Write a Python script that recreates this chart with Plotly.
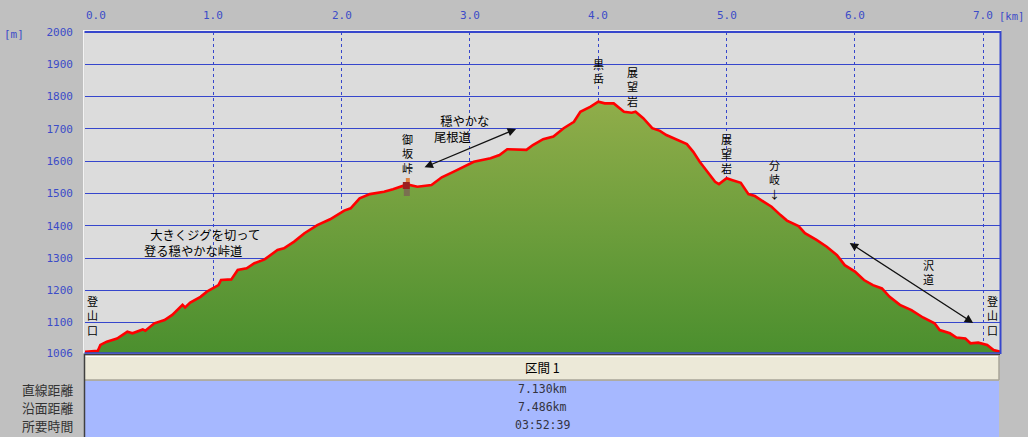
import plotly.graph_objects as go

# ---------------- data ----------------
dist_km = [0.00, 0.10, 0.12, 0.17, 0.25, 0.33, 0.37, 0.45, 0.47, 0.54,
           0.62, 0.68, 0.76, 0.78, 0.82, 0.90, 0.95, 0.99, 1.04, 1.06,
           1.14, 1.19, 1.26, 1.32, 1.40, 1.50, 1.55, 1.63, 1.71, 1.81,
           1.91, 2.02, 2.07, 2.14, 2.22, 2.33, 2.40, 2.51, 2.59, 2.70,
           2.78, 2.87, 2.95, 3.03, 3.16, 3.23, 3.29, 3.39, 3.44, 3.49,
           3.57, 3.65, 3.73, 3.81, 3.86, 3.94, 4.00, 4.05, 4.12, 4.20,
           4.26, 4.29, 4.35, 4.42, 4.48, 4.53, 4.61, 4.69, 4.74, 4.79,
           4.85, 4.91, 4.94, 5.00, 5.04, 5.11, 5.17, 5.22, 5.29, 5.35,
           5.42, 5.47, 5.56, 5.61, 5.70, 5.78, 5.86, 5.92, 6.00, 6.07,
           6.14, 6.21, 6.27, 6.35, 6.44, 6.53, 6.62, 6.66, 6.74, 6.79,
           6.86, 6.90, 6.96, 7.03, 7.08, 7.13]
elev_m = [1010, 1013, 1031, 1041, 1051, 1072, 1067, 1079, 1075, 1098,
          1108, 1124, 1155, 1147, 1162, 1180, 1196, 1206, 1216, 1232,
          1234, 1263, 1268, 1284, 1296, 1325, 1330, 1351, 1377, 1402,
          1420, 1447, 1454, 1485, 1498, 1505, 1513, 1528, 1521, 1526,
          1550, 1567, 1583, 1598, 1609, 1619, 1637, 1635, 1635, 1650,
          1668, 1676, 1702, 1722, 1753, 1769, 1784, 1779, 1779, 1753,
          1750, 1753, 1733, 1702, 1694, 1681, 1668, 1653, 1629, 1598,
          1567, 1536, 1529, 1547, 1542, 1533, 1498, 1492, 1474, 1459,
          1433, 1416, 1399, 1377, 1356, 1335, 1309, 1278, 1258, 1232,
          1216, 1206, 1180, 1155, 1139, 1116, 1098, 1077, 1067, 1054,
          1051, 1036, 1038, 1031, 1015, 1010]

x_ticks = [0, 1, 2, 3, 4, 5, 6, 7]
x_tick_labels = ["0.0", "1.0", "2.0", "3.0", "4.0", "5.0", "6.0", "7.0"]
y_ticks = [1006, 1100, 1200, 1300, 1400, 1500, 1600, 1700, 1800, 1900, 2000]
y_tick_labels = [str(v) for v in y_ticks]

# vertical place labels: (text, x_km, y_m)
vertical_labels = [
    ("登山口", 0.06, 1121),
    ("登山口", 7.07, 1121),
    ("黒岳", 4.00, 1879),
    ("展望岩", 4.27, 1831),
    ("展望岩", 5.00, 1625),
    ("分岐↓", 5.37, 1542),
    ("御坂峠", 2.51, 1625),
    ("沢道", 6.57, 1257),
]
# two-line notes: (lines, x_km_left, y_m_centre)
notes = [
    (["\u2002大きくジグを切って", "登る穏やかな峠道"], 0.444, 1348),
    (["\u2002穏やかな", "尾根道"], 2.705, 1699),
]
# double arrows: (x0, y0, x1, y1)
arrows = [
    (2.634, 1579, 3.359, 1700),
    (5.947, 1350, 6.921, 1099),
]

section_title = "区間 1"
row_labels = ["直線距離", "沿面距離", "所要時間"]
row_values = ["7.130km", "7.486km", "03:52:39"]

# ---------------- style ----------------
BG = "#c0c0c0"
PLOT_BG = "#dcdcdc"
BLUE = "#3646cc"
TICK_BLUE = "#3c4cc8"
JP = "Noto Sans CJK JP"
MONO = "DejaVu Sans Mono"

W, H = 1028, 437
L, R, T, B = 85, 28, 32, 84
PW, PH = W - L - R, H - T - B


def px_x(px):
    return (px - L) / PW


def px_y(py):
    return (H - B - py) / PH


fig = go.Figure()
fig.add_trace(go.Scatter(
    x=dist_km, y=elev_m, mode="lines",
    line=dict(color="#ff0000", width=2.6),
    fill="tozeroy",
    fillgradient=dict(type="vertical", start=1006, stop=1785,
                      colorscale=[[0, "#4b8f2e"], [1, "#90ad4a"]]),
    hoverinfo="skip", showlegend=False,
))

ann = []
# x tick labels on top
for v, t in zip(x_ticks, x_tick_labels):
    ann.append(dict(x=v, y=1, xref="x", yref="paper", text=t, showarrow=False,
                    xanchor="center", yanchor="bottom", yshift=8,
                    xshift=(11 if v == 0 else 0),
                    font=dict(family=MONO, size=11, color=TICK_BLUE)))
ann.append(dict(x=px_x(1026), y=1, xref="paper", yref="paper", text="[km]",
                showarrow=False, xanchor="right", yanchor="bottom", yshift=8,
                font=dict(family=MONO, size=10.5, color=TICK_BLUE)))
ann.append(dict(x=px_x(2), y=px_y(34), xref="paper", yref="paper", text="[m]",
                showarrow=False, xanchor="left", yanchor="middle",
                font=dict(family=MONO, size=11, color=TICK_BLUE)))

# vertical labels, one character per line
for text, xv, yv in vertical_labels:
    ann.append(dict(x=xv, y=yv, xref="x", yref="y", text="<br>".join(text),
                    showarrow=False, xanchor="center", yanchor="middle",
                    font=dict(family=JP, size=11, color="#000000")))
for lines, xv, yv in notes:
    ann.append(dict(x=xv, y=yv, xref="x", yref="y", text="<br>".join(lines),
                    showarrow=False, xanchor="left", yanchor="middle", align="left",
                    font=dict(family=JP, size=12.3, color="#000000")))
for x0, y0, x1, y1 in arrows:
    ann.append(dict(x=x1, y=y1, ax=x0, ay=y0, xref="x", yref="y", axref="x", ayref="y",
                    text="", showarrow=True, arrowhead=2, startarrowhead=2,
                    arrowside="end+start", arrowsize=1.3, startarrowsize=1.3,
                    arrowwidth=1.3, arrowcolor="#111111", standoff=0, startstandoff=0))

# table texts
ann.append(dict(x=0.5, y=px_y(368), xref="paper", yref="paper", text=section_title,
                showarrow=False, xanchor="center", yanchor="middle",
                font=dict(family=JP, size=12.5, color="#000000")))
for i, (lab, val) in enumerate(zip(row_labels, row_values)):
    yy = px_y(389 + 18 * i)
    ann.append(dict(x=px_x(75), y=yy, xref="paper", yref="paper", text=lab,
                    showarrow=False, xanchor="right", yanchor="middle",
                    font=dict(family=JP, size=12.8, color="#333333")))
    ann.append(dict(x=0.5, y=yy, xref="paper", yref="paper", text=val,
                    showarrow=False, xanchor="center", yanchor="middle",
                    font=dict(family=MONO, size=11.5, color="#333340")))

shapes = [
    # table header (beige button)
    dict(type="rect", xref="paper", yref="paper", x0=px_x(84), x1=px_x(999),
         y0=px_y(380), y1=px_y(355), fillcolor="#ece9d8", line=dict(width=0), layer="below"),
    dict(type="line", xref="paper", yref="paper", x0=px_x(84), x1=px_x(1000),
         y0=px_y(354.5), y1=px_y(354.5), line=dict(color="#404040", width=1.5)),
    dict(type="line", xref="paper", yref="paper", x0=px_x(85), x1=px_x(999),
         y0=px_y(356.5), y1=px_y(356.5), line=dict(color="#ffffff", width=1)),
    dict(type="line", xref="paper", yref="paper", x0=px_x(84), x1=px_x(999),
         y0=px_y(380), y1=px_y(380), line=dict(color="#a8a598", width=1.5)),
    dict(type="line", xref="paper", yref="paper", x0=px_x(999), x1=px_x(999),
         y0=px_y(355), y1=px_y(380), line=dict(color="#a8a598", width=1.5)),
    # table body (blue)
    dict(type="rect", xref="paper", yref="paper", x0=px_x(84), x1=px_x(999),
         y0=px_y(440), y1=px_y(381), fillcolor="#a6b8ff", line=dict(width=0), layer="below"),
    dict(type="line", xref="paper", yref="paper", x0=px_x(84.5), x1=px_x(84.5),
         y0=px_y(440), y1=px_y(354), line=dict(color="#404040", width=1.5)),
    # plot frame
    dict(type="line", xref="paper", yref="paper", x0=px_x(83), x1=px_x(1001),
         y0=px_y(30.8), y1=px_y(30.8), line=dict(color="#ffffff", width=1.2)),
    dict(type="line", xref="paper", yref="paper", x0=px_x(83.8), x1=px_x(83.8),
         y0=px_y(30.5), y1=px_y(353), line=dict(color="#ffffff", width=1.2)),
    dict(type="line", xref="paper", yref="paper", x0=px_x(84.5), x1=px_x(1001),
         y0=px_y(32), y1=px_y(32), line=dict(color=BLUE, width=2)),
    dict(type="line", xref="paper", yref="paper", x0=px_x(1000.5), x1=px_x(1000.5),
         y0=px_y(31), y1=px_y(354), line=dict(color=BLUE, width=2)),
    dict(type="line", xref="paper", yref="paper", x0=px_x(84.5), x1=px_x(1001),
         y0=px_y(353), y1=px_y(353), line=dict(color=BLUE, width=1.5)),
]

# tiny hiker icon near 御坂峠 (pixel-sized shapes anchored to data)
hiker_parts = [
    (0, 4, 5, 9, "#e08040"),     # head
    (-3, 4, -2, 5, "#9b2020"),   # body / pack
    (-2, 4, -9, -2, "#7a7050"),  # legs
]
for x0, x1, y0, y1, col in hiker_parts:
    shapes.append(dict(type="rect", xref="x", yref="y", xsizemode="pixel", ysizemode="pixel",
                       xanchor=2.5, yanchor=1520, x0=x0, x1=x1, y0=y0, y1=y1,
                       fillcolor=col, line=dict(width=0)))

fig.update_layout(
    width=W, height=H,
    margin=dict(l=L, r=R, t=T, b=B, pad=0),
    paper_bgcolor=BG, plot_bgcolor=PLOT_BG,
    showlegend=False,
    xaxis=dict(range=[0, 7.13], tickvals=x_ticks, showticklabels=False,
               showgrid=True, gridcolor=BLUE, gridwidth=1, griddash="dot",
               zeroline=False, showline=False, ticks="", fixedrange=True),
    yaxis=dict(range=[1006, 2000], tickvals=y_ticks, ticktext=y_tick_labels,
               showgrid=True, gridcolor=BLUE, gridwidth=1, zeroline=False,
               showline=False, ticks="", ticklabelstandoff=11,
               tickfont=dict(family=MONO, size=11, color=TICK_BLUE), fixedrange=True),
    annotations=ann,
    shapes=shapes,
)

fig.write_html("out.html", config={"displayModeBar": False},
               post_script="document.body.style.margin='0';document.body.style.background='#c0c0c0';")
